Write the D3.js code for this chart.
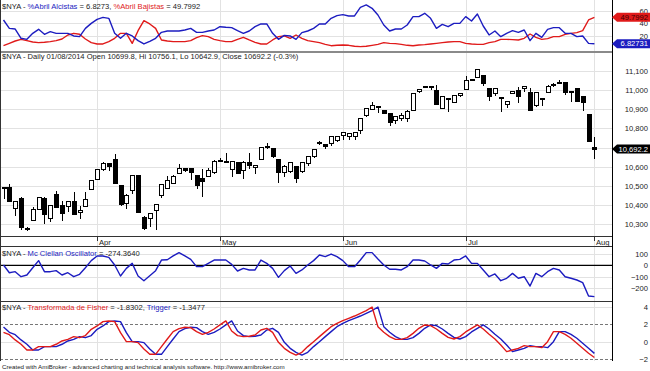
<!DOCTYPE html>
<html>
<head>
<meta charset="utf-8">
<script src="https://cdn.jsdelivr.net/npm/d3@7"></script>
<style>
  body { margin: 0; background: #fff; }
  svg text { font-family: "Liberation Sans", Arial, sans-serif; }
</style>
</head>
<body>
<div id="chart"></div>
<script>
// month labels and the bar index where each month starts
const months = ["Apr", "May", "Jun", "Jul", "Aug"];
const monthBar = [16, 37, 58, 79, 101];

// $NYA daily candles, 10 Mar .. 1 Aug 2014
const openP = [10490,10492,10383,10435,10277,10322,10379,10437,10332,10454,
10397,10395,10417,10360,10393,10483,10536,10588,10619,10640,
10501,10409,10478,10553,10336,10331,10371,10448,10488,10514,
10564,10590,10593,10552,10538,10548,10572,10632,10622,10588,
10621,10581,10624,10595,10638,10707,10695,10638,10569,10574,
10603,10575,10617,10651,10725,10718,10721,10739,10763,10756,
10756,10791,10866,10899,10913,10891,10878,10840,10852,10852,
10892,10992,11017,11017,10997,10904,10955,10936,10973,11003,
11052,11067,11074,11009,10983,10957,10927,10983,10997,11009,
10987,10917,10955,10988,11026,11040,11041,10990,11009,10966,
10875,10699.8];
const highP = [10495,10510,10420,10440,10285,10391,10443,10440,10402,10475,
10423,10423,10466,10397,10466,10530,10591,10626,10622,10666,
10501,10457,10557,10553,10344,10360,10404,10505,10552,10557,
10616,10593,10593,10552,10586,10595,10633,10647,10672,10629,
10621,10629,10672,10609,10703,10724,10695,10638,10609,10621,
10603,10625,10651,10690,10733,10720,10756,10760,10782,10774,
10777,10850,10905,10940,10916,10891,10878,10861,10878,10896,
10983,11004,11019,11018,11027,10965,10958,10974,10983,11072,
11056,11105,11074,11009,11007,10962,10939,10995,11018,11021,
11009,10992,10958,11027,11035,11053,11041,10997,11009,10966,
10875,10756.1];
const lowP = [10431,10414,10344,10270,10265,10322,10375,10301,10310,10384,
10318,10362,10353,10327,10393,10478,10536,10579,10579,10510,
10397,10379,10457,10357,10270,10288,10271,10436,10485,10510,
10560,10575,10529,10483,10440,10545,10562,10626,10620,10547,
10567,10536,10588,10560,10638,10695,10646,10517,10548,10570,
10517,10570,10603,10648,10712,10695,10707,10730,10739,10740,
10742,10770,10862,10895,10882,10875,10814,10822,10840,10835,
10892,10983,11009,11000,10927,10904,10887,10936,10966,11003,
11050,11062,11023,10945,10969,10887,10905,10983,10934,10988,
10892,10914,10917,10988,11018,11035,10974,10936,10939,10892,
10730,10642.9];
const closeP = [10488,10419,10417,10283,10273,10376,10440,10353,10397,10388,
10357,10417,10353,10370,10431,10530,10588,10619,10602,10513,
10405,10452,10557,10362,10280,10355,10404,10505,10531,10548,
10593,10578,10569,10500,10522,10583,10629,10633,10629,10629,
10567,10624,10609,10609,10703,10698,10655,10569,10603,10621,
10538,10621,10651,10690,10729,10704,10756,10760,10777,10774,
10777,10850,10905,10922,10915,10878,10831,10861,10870,10887,
10983,11004,11018,11015,10927,10965,10957,10974,10983,11050,
11054,11105,11032,10966,11007,10960,10939,10995,10969,11021,
10892,10988,10957,11018,11027,11041,10987,10992,10939,10934,
10730,10692.2];

// %Abril Alcistas / Bajistas
const alcistas = [45.4,31.8,30.7,15.6,13.9,23.7,30.2,22.1,26.4,23.7,
23.7,23.7,19.4,18.3,31.8,39.9,46.5,49.7,48.1,23.7,
15.6,23.7,19.4,11.8,6.4,10.7,15.6,25.3,27.5,27.5,
27.5,29.1,31.8,25.3,25.3,27.5,29.1,34.5,33.5,32.9,
28.0,23.7,27.5,34.5,38.9,38.9,23.7,13.9,20.4,19.4,
13.9,24.8,27.5,31.8,38.9,38.9,48.1,52.4,54.1,51.9,
51.9,66.0,69.8,64.4,53.5,37.2,27.5,30.7,30.7,37.2,
50.8,50.8,56.2,48.1,31.8,38.3,34.5,39.9,39.9,50.8,
43.8,55.1,35.6,21.0,27.5,18.3,23.7,28.0,25.3,29.1,
11.8,23.7,17.2,30.2,32.9,32.9,23.7,23.7,18.3,19.4,
7.4,6.8273];
const bajistas = [3.6,7.4,11.2,13.9,11.8,9.6,8.5,9.1,10.2,11.8,
14.5,21.0,23.7,22.1,14.5,8.5,6.4,6.4,10.2,15.6,
23.7,23.7,7.4,28.0,44.3,38.9,31.8,12.9,11.2,10.2,
10.2,10.2,11.8,16.7,19.9,18.3,13.9,11.8,10.2,10.2,
13.9,17.2,12.9,9.1,6.4,6.4,12.9,18.3,19.4,15.6,
21.0,15.6,11.8,10.2,8.5,5.8,3.6,4.2,4.7,4.2,
2.6,2.0,2.6,4.2,5.8,8.5,7.4,6.9,5.8,4.2,
3.6,4.7,5.3,6.4,7.4,8.5,9.6,10.2,10.2,7.4,
6.4,5.8,5.8,8.5,10.2,13.9,13.9,13.4,12.9,15.6,
22.6,17.2,13.9,15.0,18.3,18.3,22.1,23.7,24.8,28.0,
45.4,49.7992];

// Mc Clellan oscillator
const mcclellan = [3,-65,-56,-100,-85,-21,41,-56,-56,-47,
-85,-65,-100,-79,-21,41,82,82,70,3,
-94,-27,17,-94,-135,-91,-47,46,49,82,
111,82,52,-12,-12,17,46,46,46,8,
-50,-27,-41,-41,46,17,-27,-106,-47,-6,
-71,-41,3,41,90,76,99,76,41,-12,
-12,46,111,111,55,3,-35,-35,-41,-12,
46,46,38,3,-27,17,11,46,52,82,
17,17,-41,-100,-76,-135,-114,-71,-114,-100,
-182,-71,-100,-56,-27,-41,-100,-114,-129,-152,
-269,-274.364];

// Fisher transform and trigger
const fisher = [1.08,0.81,0.20,-0.30,-0.96,-0.96,-0.57,-0.57,-0.57,-0.30,
0.08,0.27,0.58,0.46,0.70,1.43,1.81,2.31,2.39,2.31,
1.04,0.00,0.00,-0.11,-0.84,-1.46,-1.46,-0.57,0.31,1.16,
1.50,1.66,1.62,1.16,0.85,1.08,1.46,1.93,2.39,1.23,
0.70,0.58,0.62,0.77,1.35,1.54,1.08,-0.07,-0.77,-1.23,
-1.54,-1.23,-0.57,0.00,0.58,1.16,1.73,2.12,2.43,2.69,
2.96,3.27,3.58,4.00,1.73,1.08,0.58,0.27,0.27,0.46,
0.96,1.54,1.93,1.85,1.46,0.96,0.50,0.31,0.58,1.12,
1.54,1.93,1.46,0.85,0.31,-0.38,-1.15,-0.96,-0.77,-0.46,
-0.57,-0.57,-0.69,0.00,1.16,1.16,0.85,0.39,-0.19,-0.77,
-1.34,-1.8302];
const trigger = [1.70,1.08,0.81,0.20,-0.30,-0.96,-0.96,-0.57,-0.57,-0.57,
-0.30,0.08,0.27,0.58,0.46,0.70,1.43,1.81,2.31,2.39,
2.31,1.04,0.00,0.00,-0.11,-0.84,-1.46,-1.46,-0.57,0.31,
1.16,1.50,1.66,1.62,1.16,0.85,1.08,1.46,1.93,2.39,
1.23,0.70,0.58,0.62,0.77,1.35,1.54,1.08,-0.07,-0.77,
-1.23,-1.54,-1.23,-0.57,0.00,0.58,1.16,1.73,2.12,2.43,
2.69,2.96,3.27,3.58,4.00,1.73,1.08,0.58,0.27,0.27,
0.46,0.96,1.54,1.93,1.85,1.46,0.96,0.50,0.31,0.58,
1.12,1.54,1.93,1.46,0.85,0.31,-0.38,-1.15,-0.96,-0.77,
-0.46,-0.57,-0.57,-0.69,0.00,1.16,1.16,0.85,0.39,-0.19,
-0.77,-1.3477];

// tick values for the right axes (10,700 sits under the close tag, so only its grid line is drawn)
const topTicks = [20, 40, 60];
const priceGrid = [10300, 10400, 10500, 10600, 10700, 10800, 10900, 11000, 11100];
const priceTicks = [10300, 10400, 10500, 10600, 10800, 10900, 11000, 11100];
const mccTicks = [-200, -100, 0, 100];
const fishTicks = [-2, 0, 2, 4];

const W = 650, H = 371, plotR = 612;
const BLUE = "#1c1cc0", RED = "#e01a1a";
const FS = 7.6;

const svg = d3.select('#chart').append('svg')
  .attr('width', W).attr('height', H);

const x = d3.scaleLinear().domain([0, 101]).range([3.5, 594.4]);

const yTop = d3.scaleLinear().domain([0, 60]).range([47.9, 11]);
const yPrice = d3.scaleLinear().domain([10300, 11100]).range([224.3, 70.9]);
const yMcc = d3.scaleLinear().domain([-200, 100]).range([288.1, 253.9]);
const yFish = d3.scaleLinear().domain([-2, 4]).range([359, 307]);

// horizontal grid per pane
function hgrid(scale, ticks) {
  svg.append('g').selectAll('line').data(ticks).enter().append('line')
    .attr('x1', 0).attr('x2', plotR)
    .attr('y1', d => Math.round(scale(d)) + 0.5)
    .attr('y2', d => Math.round(scale(d)) + 0.5)
    .attr('stroke', '#e2e2e2').attr('stroke-width', 1);
}
hgrid(yTop, topTicks);
hgrid(yPrice, priceGrid);
hgrid(yMcc, [-200, -100, 100]);
hgrid(yFish, [0, 4]);

// vertical month grid
svg.append('g').selectAll('line').data(monthBar).enter().append('line')
  .attr('x1', d => Math.round(x(d)) + 0.5).attr('x2', d => Math.round(x(d)) + 0.5)
  .attr('y1', 0).attr('y2', 361)
  .attr('stroke', '#e2e2e2');

// Fisher dashed levels
svg.append('g').selectAll('line').data([2, -2]).enter().append('line')
  .attr('x1', 0).attr('x2', plotR)
  .attr('y1', d => Math.round(yFish(d)) + 0.5).attr('y2', d => Math.round(yFish(d)) + 0.5)
  .attr('stroke', '#777').attr('stroke-dasharray', '3,2');

// McClellan zero line
svg.append('line')
  .attr('x1', 0).attr('x2', plotR)
  .attr('y1', yMcc(0)).attr('y2', yMcc(0))
  .attr('stroke', '#000').attr('stroke-width', 1.3);

// lines
function drawLine(data, scale, color) {
  const line = d3.line().x((d, i) => x(i)).y(d => scale(d));
  svg.append('path').datum(data)
    .attr('d', line).attr('fill', 'none')
    .attr('stroke', color).attr('stroke-width', 1.4)
    .attr('stroke-linejoin', 'round');
}
drawLine(bajistas, yTop, RED);
drawLine(alcistas, yTop, BLUE);
drawLine(mcclellan, yMcc, BLUE);
drawLine(trigger, yFish, BLUE);
drawLine(fisher, yFish, RED);

// candles
const bars = d3.range(openP.length);
const candles = svg.append('g').attr('shape-rendering', 'crispEdges');
candles.selectAll('.wick').data(bars).enter().append('line')
  .attr('class', 'wick')
  .attr('x1', i => Math.round(x(i)) + 0.5).attr('x2', i => Math.round(x(i)) + 0.5)
  .attr('y1', i => yPrice(highP[i])).attr('y2', i => yPrice(lowP[i]))
  .attr('stroke', '#000');
candles.selectAll('.body').data(bars).enter().append('rect')
  .attr('class', 'body')
  .attr('x', i => Math.round(x(i)) - 1.5)
  .attr('y', i => yPrice(Math.max(openP[i], closeP[i])))
  .attr('width', 4)
  .attr('height', i => Math.max(1, yPrice(Math.min(openP[i], closeP[i])) - yPrice(Math.max(openP[i], closeP[i]))))
  .attr('fill', i => closeP[i] >= openP[i] ? '#fff' : '#000')
  .attr('stroke', '#000');

// pane borders
const borders = svg.append('g').attr('shape-rendering', 'crispEdges');
borders.append('line').attr('x1', 0).attr('x2', plotR).attr('y1', 51.5).attr('y2', 51.5)
  .attr('stroke', '#8a8a8a').attr('stroke-width', 2);
[236.5, 246.5, 301.5].forEach(yy => {
  borders.append('line').attr('x1', 0).attr('x2', plotR).attr('y1', yy).attr('y2', yy)
    .attr('stroke', '#333');
});
borders.append('line').attr('x1', 0.5).attr('x2', 0.5).attr('y1', 0).attr('y2', 361).attr('stroke', '#333');
borders.append('line').attr('x1', plotR + 0.5).attr('x2', plotR + 0.5).attr('y1', 0).attr('y2', 361).attr('stroke', '#000');

// month labels in the date strip
const strip = svg.append('g');
strip.selectAll('line').data(monthBar).enter().append('line')
  .attr('x1', d => Math.round(x(d)) + 0.5).attr('x2', d => Math.round(x(d)) + 0.5)
  .attr('y1', 237).attr('y2', 241).attr('stroke', '#333');
strip.selectAll('text').data(months).enter().append('text')
  .attr('x', (d, i) => Math.round(x(monthBar[i])) + 2)
  .attr('y', 244.5)
  .attr('font-size', FS).attr('fill', '#222')
  .text(d => d);

// right axes
function rightAxis(scale, ticks, fmt) {
  const g = svg.append('g').attr('transform', 'translate(648,0)')
    .call(d3.axisLeft(scale).tickValues(ticks).tickSize(0).tickPadding(0).tickFormat(fmt));
  g.select('.domain').remove();
  g.selectAll('text').attr('font-size', FS).attr('fill', '#222')
    .attr('font-family', '"Liberation Sans", Arial, sans-serif');
}
rightAxis(yTop, topTicks, d3.format('d'));
rightAxis(yPrice, priceTicks, d3.format(','));
rightAxis(yMcc, mccTicks, d3.format('d'));
rightAxis(yFish, fishTicks, d3.format('d'));

// value tags on the right axis
function tag(yc, label, fill, color) {
  svg.append('path')
    .attr('d', `M${plotR},${yc} L${plotR + 5},${yc - 4.5} L${W},${yc - 4.5} L${W},${yc + 4.5} L${plotR + 5},${yc + 4.5} Z`)
    .attr('fill', fill);
  svg.append('text').attr('x', 648).attr('y', yc + 2.7)
    .attr('text-anchor', 'end').attr('font-size', FS).attr('fill', color)
    .text(label);
}
const last = openP.length - 1;
tag(yTop(bajistas[last]), '49.7992', RED, '#3a0000');
tag(yTop(alcistas[last]), '6.82731', BLUE, '#fff');
tag(yPrice(closeP[last]), '10,692.2', '#000', '#fff');

// pane titles
function title(yb, parts) {
  const t = svg.append('text').attr('x', 2).attr('y', yb).attr('font-size', FS);
  parts.forEach(p => t.append('tspan').attr('fill', p[1]).text(p[0]));
}
title(8.5, [['$NYA - ', '#222'], ['%Abril Alcistas', BLUE], [' = 6.8273, ', '#222'],
  ['%Abril Bajistas', RED], [' = 49.7992', '#222']]);
title(58.8, [['$NYA - Daily 01/08/2014 Open 10699.8, Hi 10756.1, Lo 10642.9, Close 10692.2 (-0.3%)', '#222']]);
title(255.5, [['$NYA - ', '#222'], ['Mc Clellan Oscillator', BLUE], [' = -274.3640', '#222']]);
title(310, [['$NYA - ', '#222'], ['Transformada de Fisher', RED], [' = -1.8302, ', '#222'],
  ['Trigger', BLUE], [' = -1.3477', '#222']]);

svg.append('text').attr('x', 2).attr('y', 368.5).attr('font-size', 6.2).attr('fill', '#222')
  .text('Created with AmiBroker - advanced charting and technical analysis software. http://www.amibroker.com');
</script>
</body>
</html>
